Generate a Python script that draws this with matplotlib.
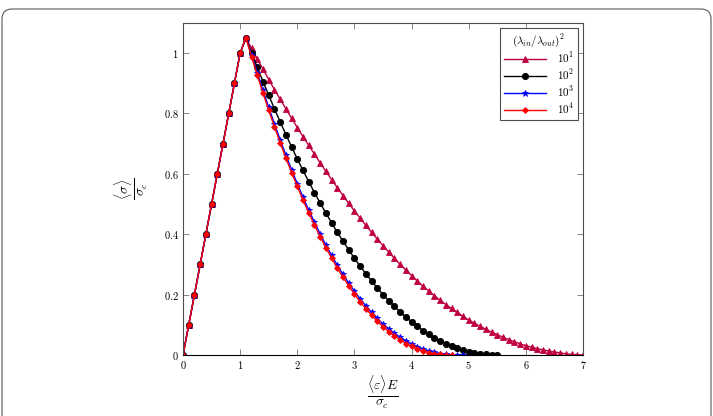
import matplotlib
matplotlib.use("Agg")
import matplotlib.pyplot as plt
from matplotlib.patches import FancyBboxPatch
from matplotlib.transforms import IdentityTransform
from matplotlib.ticker import FuncFormatter

plt.rcParams['mathtext.fontset'] = 'cm'
plt.rcParams['font.family'] = 'serif'
plt.rcParams['font.serif'] = ['DejaVu Serif']

# normalised strain <eps>E/sigma_c, shared grid
strain = [0.0, 0.1, 0.2, 0.3, 0.4, 0.5, 0.6, 0.7, 0.8, 0.9, 1.0, 1.1,
          1.2, 1.3, 1.4, 1.5, 1.6, 1.7, 1.8, 1.9, 2.0, 2.1, 2.2, 2.3,
          2.4, 2.5, 2.6, 2.7, 2.8, 2.9, 3.0, 3.1, 3.2, 3.3, 3.4, 3.5,
          3.6, 3.7, 3.8, 3.9, 4.0, 4.1, 4.2, 4.3, 4.4, 4.5, 4.6, 4.7,
          4.8, 4.9, 5.0, 5.1, 5.2, 5.3, 5.4, 5.5, 5.6, 5.7, 5.8, 5.9,
          6.0, 6.1, 6.2, 6.3, 6.4, 6.5, 6.6, 6.7, 6.8, 6.9, 7.0]

# elastic branch (same for all ratios)
rising = [0.0, 0.1, 0.2, 0.3, 0.4, 0.5, 0.6, 0.7, 0.8, 0.9, 1.0, 1.05]

# softening branches, from strain 1.2 on
soft_1e1 = [1.015, 0.980, 0.946, 0.912, 0.879, 0.847, 0.815, 0.784, 0.753,
            0.723, 0.694, 0.665, 0.636, 0.608, 0.581, 0.554, 0.528, 0.502,
            0.477, 0.453, 0.429, 0.406, 0.384, 0.362, 0.341, 0.320, 0.300,
            0.281, 0.263, 0.245, 0.228, 0.212, 0.196, 0.181, 0.167, 0.154,
            0.141, 0.128, 0.116, 0.105, 0.095, 0.085, 0.076, 0.067, 0.059,
            0.051, 0.044, 0.037, 0.031, 0.026, 0.021, 0.017, 0.013, 0.010,
            0.007, 0.004, 0.002, 0.001, 0.0]
soft_1e2 = [1.000, 0.952, 0.905, 0.860, 0.815, 0.772, 0.730, 0.689, 0.649,
            0.611, 0.574, 0.538, 0.503, 0.470, 0.438, 0.406, 0.377, 0.348,
            0.320, 0.294, 0.269, 0.245, 0.222, 0.200, 0.180, 0.161, 0.143,
            0.126, 0.110, 0.095, 0.081, 0.069, 0.057, 0.047, 0.037, 0.029,
            0.022, 0.016, 0.011, 0.007, 0.004, 0.002, 0.0004, 0.0]
soft_1e3 = [0.992, 0.934, 0.876, 0.820, 0.765, 0.713, 0.662, 0.614, 0.567,
            0.522, 0.480, 0.440, 0.401, 0.364, 0.330, 0.297, 0.267, 0.238,
            0.211, 0.186, 0.163, 0.141, 0.121, 0.103, 0.087, 0.072, 0.059,
            0.047, 0.037, 0.028, 0.020, 0.014, 0.009, 0.005, 0.003, 0.001,
            0.0002, 0.0]
soft_1e4 = [0.987, 0.926, 0.867, 0.810, 0.756, 0.703, 0.652, 0.604, 0.558,
            0.513, 0.471, 0.430, 0.392, 0.355, 0.321, 0.288, 0.257, 0.229,
            0.202, 0.176, 0.153, 0.132, 0.112, 0.094, 0.077, 0.063, 0.050,
            0.038, 0.029, 0.020, 0.014, 0.008, 0.004, 0.002, 0.0004, 0.0]

labels = ['$10^1$', '$10^2$', '$10^3$', '$10^4$']
colors = ['#bf0040', 'black', 'blue', 'red']
markers = ['^', 'o', '*', 'D']
msizes = [3.8, 4.5, 4.6, 3.0]

fig = plt.figure(figsize=(7.13, 4.16), dpi=100)
ax = fig.add_axes([0.2567, 0.1466, 0.5610, 0.7987])

for soft, lab, c, m, ms in zip([soft_1e1, soft_1e2, soft_1e3, soft_1e4],
                               labels, colors, markers, msizes):
    y = rising + soft
    x = strain[:len(y)]
    ax.plot(x, y, color=c, marker=m, markersize=ms, lw=1.0,
            markeredgewidth=0.6, label=lab)

ax.set_xlim(0, 7)
ax.set_ylim(0, 1.1)
ax.set_xticks([0, 1, 2, 3, 4, 5, 6, 7])
ax.set_yticks([0, 0.2, 0.4, 0.6, 0.8, 1.0])
fmt = FuncFormatter(lambda v, p: '$%g$' % v)
ax.xaxis.set_major_formatter(fmt)
ax.yaxis.set_major_formatter(fmt)
ax.tick_params(direction='in', top=True, right=True, length=4, width=0.6,
               color='0.45', labelsize=7.5, pad=3)
for s in ax.spines.values():
    s.set_color('0.3')
    s.set_linewidth(0.8)
ax.spines['bottom'].set_color('black')

ax.set_xlabel(r'$\frac{\langle\varepsilon\rangle E}{\sigma_c}$', fontsize=14,
              labelpad=1)
ax.set_ylabel(r'$\frac{\langle\sigma\rangle}{\sigma_c}$', fontsize=14,
              labelpad=10)

leg = ax.legend(title=r'$(\lambda_{in}/\lambda_{out})^2$', loc='upper right',
                fontsize=8, title_fontsize=8, fancybox=False,
                edgecolor='0.3', framealpha=1, handlelength=3.8,
                borderaxespad=0.45, labelspacing=0.2, borderpad=0.35,
                handletextpad=1.0)
leg.get_frame().set_linewidth(0.8)

frame = FancyBboxPatch((2, -30), 709, 437,
                       boxstyle='round,pad=0,rounding_size=10',
                       transform=IdentityTransform(), facecolor='none',
                       edgecolor='0.35', lw=0.8)
fig.patches.append(frame)

fig.savefig('out.png', dpi=100)
